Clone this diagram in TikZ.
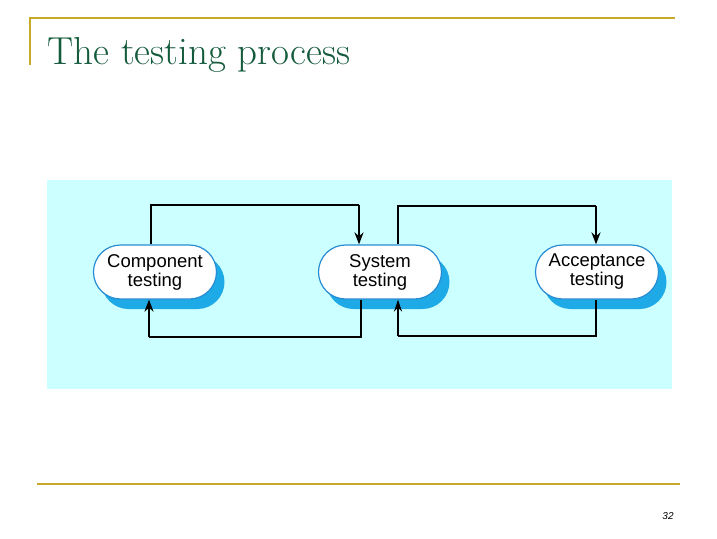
\documentclass[tikz,border=0pt]{standalone}
\usepackage{fontspec}
\newfontfamily\sans{Liberation Sans}
\usetikzlibrary{arrows.meta,shapes.misc}
\definecolor{gold}{RGB}{200,170,40}
\definecolor{ttl}{RGB}{20,90,60}
\definecolor{panel}{RGB}{204,255,255}
\definecolor{shad}{RGB}{30,170,230}
\definecolor{pillb}{RGB}{40,140,210}
\begin{document}
\begin{tikzpicture}[x=1pt,y=-1pt,
  pill/.style={rounded rectangle,draw=pillb,line width=1.2pt,fill=white,minimum width=123pt,minimum height=54pt,inner sep=0pt,align=center,font=\sans\fontsize{18.5}{19}\selectfont},
  shd/.style={rounded rectangle,fill=shad,minimum width=123pt,minimum height=54pt,inner sep=0pt},
  ln/.style={line width=2.2pt,black},
  arr/.style={ln,-{Stealth[length=12pt,width=9pt]}}]
\useasboundingbox (0,0) rectangle (717,538);
\draw[gold,line width=2pt] (30,65) -- (30,18) -- (675,18);
\draw[gold,line width=2pt] (37,484) -- (680,484);
\node[anchor=base west,text=ttl,font=\fontsize{39}{40}\selectfont] (title) at (44,64) {The testing process};
\node[anchor=base,font=\sans\itshape\fontsize{10}{12}\selectfont] (pg) at (668,519) {32};
\fill[panel] (47,180) rectangle (672,389);
\node[shd] (s1) at (163,282) {};
\node[shd] (s2) at (388,282) {};
\node[shd] (s3) at (605,282) {};
\node[pill] (c) at (155,272) {Component\\testing};
\node[pill] (s) at (380,272) {System\\testing};
\node[pill] (a) at (597,272) {Acceptance\\testing};
\coordinate (t1) at (151,205); \coordinate (t2) at (359,205);
\coordinate (t3) at (398,206); \coordinate (t4) at (596,206);
\coordinate (b1) at (361,337); \coordinate (b2) at (149,337);
\coordinate (b3) at (596,336); \coordinate (b4) at (398,336);
\draw[ln] (c.north -| t1) -- (t1) -- (t2);
\draw[arr] (t2) -- (s.north -| t2);
\draw[ln] (s.north -| t3) -- (t3) -- (t4);
\draw[arr] (t4) -- (a.north -| t4);
\draw[ln] (s.south -| b1) -- (b1) -- (b2);
\draw[arr] (b2) -- (c.south -| b2);
\draw[ln] (a.south -| b3) -- (b3) -- (b4);
\draw[ln,-{Stealth[open,length=12pt,width=8pt]}] (b4) -- (s.south -| b4);
\end{tikzpicture}
\end{document}
